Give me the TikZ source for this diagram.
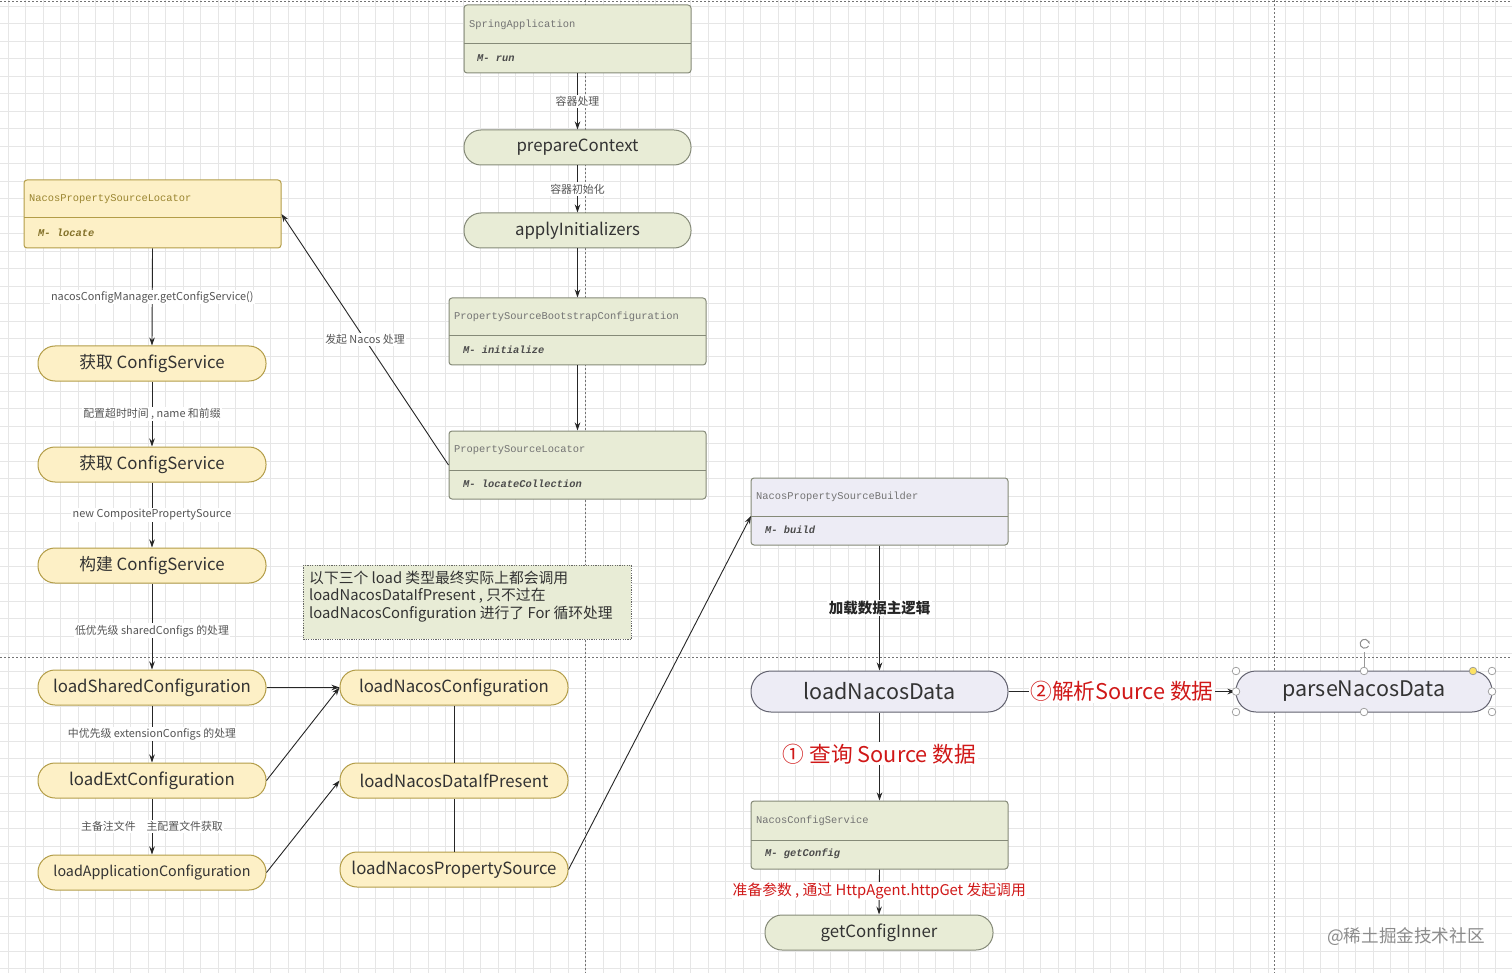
\documentclass[tikz,border=0pt]{standalone}
\usepackage{fontspec}
\setmainfont{Noto Sans CJK SC}
\newfontfamily\monof{Liberation Mono}
\usetikzlibrary{arrows.meta,fit,calc}
\definecolor{gfill}{HTML}{E8ECD6}
\definecolor{gdraw}{HTML}{858A78}
\definecolor{yfill}{HTML}{FDF0C6}
\definecolor{ydraw}{HTML}{B39D48}
\definecolor{ytext}{HTML}{9A8530}
\definecolor{pfill}{HTML}{EDECF5}
\definecolor{pdraw}{HTML}{62626F}
\definecolor{gridc}{HTML}{E6E6E6}
\definecolor{lblc}{HTML}{555555}
\definecolor{redc}{HTML}{D01818}
\tikzset{
  pill/.style={rounded corners=17pt, line width=1pt, inner sep=0pt, font=\fontsize{16.8}{20}\selectfont, text=black!80},
  gpill/.style={pill, draw=gdraw, fill=gfill},
  ypill/.style={pill, draw=ydraw, fill=yfill},
  ppill/.style={pill, draw=pdraw, fill=pfill, rounded corners=20pt, font=\fontsize{21.5}{24}\selectfont},
  gbox/.style={draw=gdraw, fill=gfill, rounded corners=3pt, line width=1pt, inner sep=0pt},
  ybox/.style={draw=ydraw, fill=yfill, rounded corners=3pt, line width=1pt, inner sep=0pt},
  pbox/.style={draw=gdraw, fill=pfill, rounded corners=3pt, line width=1pt, inner sep=0pt},
  ctitle/.style={anchor=west, font=\monof\fontsize{10.4}{12}\selectfont, inner sep=0pt},
  cmeth/.style={anchor=west, font=\monof\bfseries\itshape\fontsize{10.4}{12}\selectfont, inner sep=0pt},
  conn/.style={line width=0.9pt, draw=black!85},
  arr/.style={conn, -{Stealth[length=8pt,width=5.5pt]}},
  elbl/.style={fill=white, inner sep=1.5pt, text=lblc, font=\fontsize{10.9}{12}\selectfont},
  rlbl/.style={fill=white, inner sep=1.5pt, text=redc, font=\fontsize{21.7}{24}\selectfont},
  sep/.style={draw=black!55, line width=0.7pt, dash pattern=on 2pt off 2pt},
  handle/.style={draw=black!40, fill=white, line width=0.7pt},
}
\newcommand\clsbox[9]{%
  \node[#9box, fit={(#2,#3)(#4,#6)}] (#1) {};
  \draw[#9box, fill=none] (#2,#5) -- (#4,#5);
  \node[ctitle, text=#7] at ($(#2,#3)!0.5!(#2,#5)+(5,0)$) {#8};
}
\begin{document}
\begin{tikzpicture}[x=1pt,y=-1pt]
\useasboundingbox (0,0) rectangle (1512,973);
\fill[white] (0,0) rectangle (1512,973);
% grid
\foreach \i in {0,...,86} { \draw[gridc, line width=0.6pt] ({\i*17.5+8},0) -- ({\i*17.5+8},973); }
\foreach \j in {0,...,55} { \draw[gridc, line width=0.6pt] (0,{\j*17.5+6}) -- (1512,{\j*17.5+6}); }
% separators
\draw[sep] (0,1.5) -- (1512,1.5);
\draw[sep] (0,657) -- (1512,657);
\draw[sep] (585,0) -- (585,973);
\draw[sep] (1274,0) -- (1274,973);

% class boxes
\clsbox{sa}{464}{5}{691}{44}{73}{black!55}{SpringApplication}{g}
\node[cmeth, text=black!70] at (477,58) {M- run};
\clsbox{psbc}{449}{298}{706}{336}{365}{black!55}{PropertySourceBootstrapConfiguration}{g}
\node[cmeth, text=black!70] at (463,350) {M- initialize};
\clsbox{psl}{449}{431}{706}{470}{499}{black!55}{PropertySourceLocator}{g}
\node[cmeth, text=black!70] at (463,484) {M- locateCollection};
\clsbox{npsl}{24}{180}{281}{218}{248}{ytext}{NacosPropertySourceLocator}{y}
\node[cmeth, text=ytext!85!black] at (38,233) {M- locate};
\clsbox{npsb}{751}{478}{1008}{516}{545}{black!55}{NacosPropertySourceBuilder}{p}
\node[cmeth, text=black!70] at (765,530) {M- build};
\clsbox{ncs}{751}{801}{1008}{840}{869}{black!55}{NacosConfigService}{g}
\node[cmeth, text=black!70] at (765,854) {M- getConfig};

% pills
\node[gpill, minimum width=227pt, minimum height=35pt] (pc) at (577.5,147.5) {prepareContext};
\node[gpill, minimum width=227pt, minimum height=35pt] (ai) at (577.5,230.5) {applyInitializers};
\node[ypill, minimum width=228pt, minimum height=35pt] (g1) at (152,363.5) {获取 ConfigService};
\node[ypill, minimum width=228pt, minimum height=35pt] (g2) at (152,464.5) {获取 ConfigService};
\node[ypill, minimum width=228pt, minimum height=35pt] (bc) at (152,565.5) {构建 ConfigService};
\node[ypill, minimum width=228pt, minimum height=35pt] (lsc) at (152,687.5) {loadSharedConfiguration};
\node[ypill, minimum width=228pt, minimum height=35pt] (lec) at (152,780.5) {loadExtConfiguration};
\node[ypill, minimum width=228pt, minimum height=35pt, font=\fontsize{14.3}{18}\selectfont] (lac) at (152,872.5) {loadApplicationConfiguration};
\node[ypill, minimum width=228pt, minimum height=35pt] (lnc) at (454,687.5) {loadNacosConfiguration};
\node[ypill, minimum width=228pt, minimum height=35pt] (ldp) at (454,780.5) {loadNacosDataIfPresent};
\node[ypill, minimum width=228pt, minimum height=35pt] (lps) at (454,869.5) {loadNacosPropertySource};
\node[ppill, minimum width=257pt, minimum height=41pt] (lnd) at (879.5,691.5) {loadNacosData};
\node[ppill, minimum width=256pt, minimum height=41pt] (pnd) at (1364,691.5) {parseNacosData};
\node[gpill, minimum width=228pt, minimum height=35pt] (gci) at (879,932.5) {getConfigInner};

% note
\node[draw=black!60, dash pattern=on 1.2pt off 1.2pt, line width=0.8pt, fill=gfill, anchor=north west, minimum width=328pt, minimum height=74pt, inner sep=0pt] (note) at (303,565) {};
\node[anchor=north west, align=left, inner sep=0pt, text=black!80, font=\fontsize{14.8}{17.6}\selectfont] (notetxt) at (309,570.5) {以下三个 load 类型最终实际上都会调用\\loadNacosDataIfPresent , 只不过在\\loadNacosConfiguration 进行了 For 循环处理};

% connectors center column
\draw[arr] (sa.south) -- node[elbl] {容器处理} (pc.north);
\draw[arr] (pc.south) -- node[elbl] {容器初始化} (ai.north);
\draw[arr] (ai.south) -- (psbc.north);
\draw[arr] (psbc.south) -- (psl.north);
\draw[arr] (psl.west) -- node[elbl, pos=0.5] {发起 Nacos 处理} (npsl.east);

% left column
\draw[arr] (npsl.south) -- node[elbl] {nacosConfigManager.getConfigService()} (g1.north);
\draw[arr] (g1.south) -- node[elbl] {配置超时时间 , name 和前缀} (g2.north);
\draw[arr] (g2.south) -- node[elbl] {new CompositePropertySource} (bc.north);
\draw[arr] (bc.south) -- node[elbl, pos=0.55] {低优先级 sharedConfigs 的处理} (lsc.north);
\draw[arr] (lsc.south) -- node[elbl] {中优先级 extensionConfigs 的处理} (lec.north);
\draw[arr] (lec.south) -- node[elbl] {主备注文件\quad 主配置文件获取} (lac.north);

\draw[arr] (lsc.east) -- (lnc.west);
\draw[arr] (lec.east) -- (lnc.west);
\draw[arr] (lac.east) -- (ldp.west);
\draw[conn] (lnc.south) -- (ldp.north);
\draw[conn] (ldp.south) -- (lps.north);
\draw[arr] (lps.east) -- (751,516);

% right
\draw[arr] (npsb.south) -- node[fill=white, inner sep=1.5pt, text=black!85, font=\bfseries\fontsize{14.5}{16}\selectfont] {加载数据主逻辑} (lnd.north);
\draw[arr] (lnd.east) -- node[rlbl, inner sep=1pt] {②解析Source 数据} (pnd.west);
\draw[arr] (lnd.south) -- node[rlbl, pos=0.47] {① 查询 Source 数据} (ncs.north);
\draw[arr] (ncs.south) -- node[fill=white, inner sep=1pt, text=redc, font=\fontsize{14.8}{16}\selectfont, pos=0.48] {准备参数 , 通过 HttpAgent.httpGet 发起调用} (gci.north);

% selection handles
\draw[black!40, line width=0.7pt] (1364,671) -- (1364,652);
\draw[black!45, line width=1pt] (1368.5,641.5) arc[start angle=30, end angle=330, radius=4.5pt];
\draw[black!45, line width=1pt, -{Stealth[length=3pt]}] (1368.5,641.5) -- (1369.5,644);
\foreach \p in {(1236,671),(1364,671),(1492,671),(1236,691.5),(1492,691.5),(1236,712),(1364,712),(1492,712)} {
  \draw[handle] \p circle[radius=3.8pt];
}
\draw[black!40, fill=yellow!70!orange!60, line width=0.7pt] (1473,671) circle[radius=3.8pt];

% watermark
\node[text=black!45, font=\fontsize{17.6}{20}\selectfont] (wm) at (1406,937) {@稀土掘金技术社区};
\end{tikzpicture}
\end{document}
